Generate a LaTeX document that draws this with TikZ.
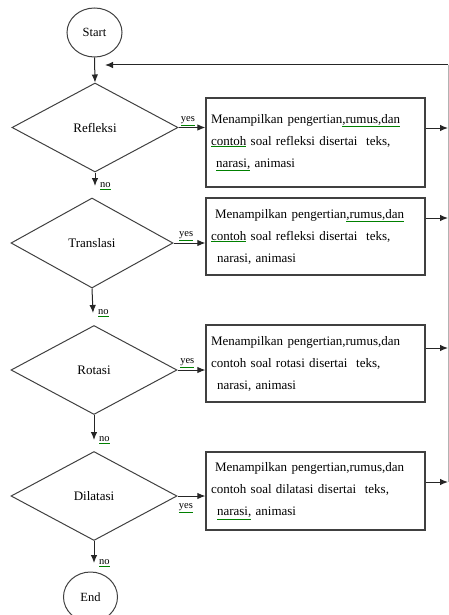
\documentclass[tikz,border=0pt]{standalone}
\usepackage{fontspec}
\setmainfont{Liberation Serif}
\usetikzlibrary{shapes.geometric,arrows.meta}

% green spell-check underline
\newcommand{\gul}[1]{{\color{green!50!black}\underline{\color{black}#1}}}

\tikzset{
  terminal/.style={ellipse, draw=black!75, line width=1pt, minimum width=55pt, minimum height=49pt, inner sep=0pt, font=\fontsize{12.5}{14}\selectfont},
  decision/.style={diamond, draw=black!75, line width=1pt, minimum width=166pt, minimum height=89pt, inner sep=0pt, font=\fontsize{13}{15}\selectfont},
  materi/.style={rectangle, draw=black!75, line width=1.3pt, minimum width=219pt, text width=209pt, inner sep=5pt, align=left, font=\fontsize{13}{22}\selectfont},
  arr/.style={-{Latex[length=8pt,width=6.5pt]}, line width=1pt, black!85},
  lbl/.style={font=\fontsize{10.5}{12}\selectfont, inner sep=1.5pt},
}

\begin{document}
\begin{tikzpicture}[x=1pt,y=-1pt]
  \useasboundingbox (0,0) rectangle (449,615);

  % flow
  \node[terminal] (start) at (94.5,32.5) {Start};
  \node[decision] (refl) at (95,127.5) {Refleksi};
  \node[decision, minimum width=162pt, minimum height=90pt] (tran) at (92,243) {Translasi};
  \node[decision] (rota) at (94,370) {Rotasi};
  \node[decision] (dila) at (94,496) {Dilatasi};
  \node[terminal, minimum width=54pt, minimum height=50pt] (end) at (90.5,597) {End};

  % materi
  \node[materi, minimum height=89pt] (m1) at (315.5,142.5) {Menampilkan pengertian\gul{,rumus,dan}\\
    \gul{contoh} soal refleksi disertai~~teks,\\
    \hspace*{5pt}\gul{narasi,} animasi};
  \node[materi, minimum height=77pt] (m2) at (315.5,236.5) {\hspace*{4pt}Menampilkan pengertian\gul{,rumus,dan}\\
    \gul{contoh} soal refleksi disertai~~teks,\\
    \hspace*{6pt}narasi, animasi};
  \node[materi, minimum height=77pt] (m3) at (315.5,363.5) {Menampilkan pengertian,rumus,dan\\
    contoh soal rotasi disertai~~teks,\\
    \hspace*{6pt}narasi, animasi};
  \node[materi, minimum height=78pt] (m4) at (315.5,491) {\hspace*{4pt}Menampilkan pengertian,rumus,dan\\
    contoh soal dilatasi disertai~~teks,\\
    \hspace*{6pt}\gul{narasi,} animasi};

  \coordinate (top) at (448,65);
  \coordinate (back) at (105,65);
  \coordinate (r1) at (448,128);
  \coordinate (r2) at (448,218);
  \coordinate (r3) at (448,348);
  \coordinate (r4) at (448,482);
  \coordinate (n1) at (95,186);
  \coordinate (n2) at (93,313);
  \coordinate (n3) at (94,440);
  \coordinate (n4) at (94,563);

  \draw[arr] (start.south) -- (refl.north);
  \draw[arr] (top) -- (back);
  \draw[black!30, line width=0.7pt] (top) -- (r4);

  \draw[arr] (refl.east) -- (refl.east -| m1.west) node[lbl, above, pos=0.35] {\gul{yes}};
  \draw[arr] (tran.east) -- (tran.east -| m2.west) node[lbl, above, pos=0.4] {\gul{yes}};
  \draw[arr] (rota.east) -- (rota.east -| m3.west) node[lbl, above, pos=0.35] {\gul{yes}};
  \draw[arr] (dila.east) -- (dila.east -| m4.west) node[lbl, below, pos=0.3, yshift=-6pt] {\gul{yes}};

  \draw[arr] (refl.south) -- (n1) node[lbl, right, xshift=3pt] {\gul{no}};
  \draw[arr] (tran.south) -- (n2) node[lbl, right, xshift=3pt] {\gul{no}};
  \draw[arr] (rota.south) -- (n3) node[lbl, right, xshift=3pt] {\gul{no}};
  \draw[arr] (dila.south) -- (n4) node[lbl, right, xshift=3pt] {\gul{no}};

  \draw[arr] (m1.east |- r1) -- (r1);
  \draw[arr] (m2.east |- r2) -- (r2);
  \draw[arr] (m3.east |- r3) -- (r3);
  \draw[arr] (m4.east |- r4) -- (r4);
\end{tikzpicture}
\end{document}
